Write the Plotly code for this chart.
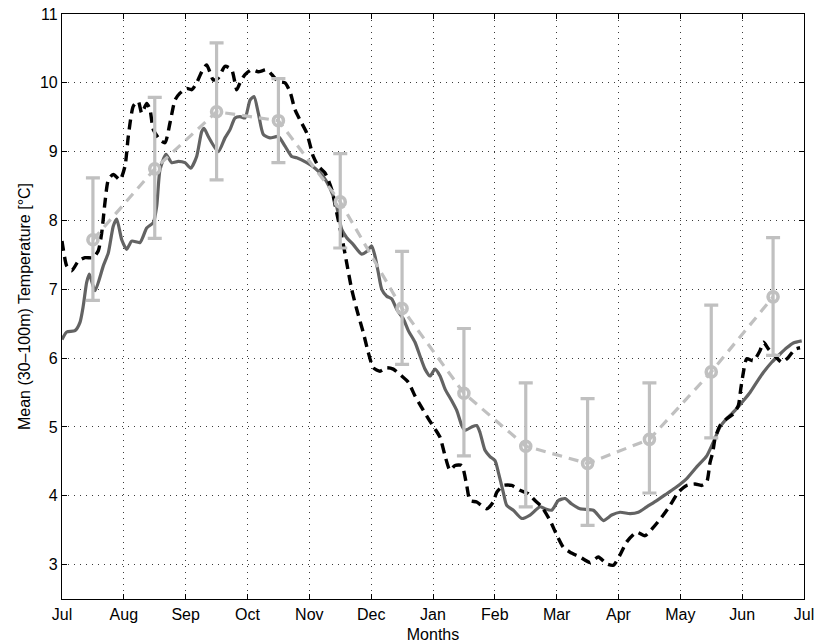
import plotly.graph_objects as go

# Month axis: position 0 = 1 July, 12 = 1 July of the following year
month_ticks = list(range(13))
month_labels = ["Jul", "Aug", "Sep", "Oct", "Nov", "Dec", "Jan",
                "Feb", "Mar", "Apr", "May", "Jun", "Jul"]

# Daily climatology (solid dark grey), time in fractional months
clim_t = [0.000, 0.076, 0.210, 0.291, 0.344, 0.399, 0.442, 0.534, 0.668, 0.749,
          0.830, 0.885, 0.966, 1.046, 1.127, 1.262, 1.370, 1.477, 1.532, 1.585,
          1.682, 1.774, 1.881, 1.989, 2.082, 2.178, 2.259, 2.297, 2.366, 2.528,
          2.636, 2.717, 2.798, 2.879, 2.960, 3.041, 3.105, 3.175, 3.256, 3.364,
          3.498, 3.607, 3.715, 3.796, 3.958, 4.092, 4.226, 4.334, 4.443, 4.524,
          4.605, 4.711, 4.847, 4.928, 5.009, 5.062, 5.116, 5.171, 5.252, 5.332,
          5.413, 5.520, 5.601, 5.709, 5.790, 5.871, 5.952, 6.033, 6.114, 6.195,
          6.303, 6.384, 6.465, 6.518, 6.626, 6.707, 6.760, 6.841, 6.922, 7.003,
          7.057, 7.137, 7.192, 7.299, 7.435, 7.569, 7.731, 7.812, 7.920, 8.027,
          8.135, 8.244, 8.378, 8.593, 8.755, 8.890, 9.025, 9.187, 9.321, 9.457,
          9.618, 9.780, 9.942, 10.103, 10.265, 10.427, 10.534, 10.642, 10.750,
          10.885, 11.019, 11.127, 11.236, 11.342, 11.478, 11.613, 11.721, 11.828,
          11.963]
clim_temp = [6.27, 6.38, 6.40, 6.52, 6.76, 7.10, 7.22, 6.98, 7.34, 7.53,
             7.92, 8.02, 7.72, 7.58, 7.70, 7.68, 7.89, 7.97, 8.21, 8.74,
             8.96, 8.84, 8.86, 8.84, 8.76, 8.93, 9.29, 9.34, 9.22, 9.00,
             9.20, 9.32, 9.49, 9.51, 9.49, 9.75, 9.80, 9.56, 9.25, 9.20,
             9.22, 9.08, 8.93, 8.91, 8.84, 8.76, 8.64, 8.47, 8.20, 7.87,
             7.75, 7.65, 7.51, 7.55, 7.63, 7.48, 7.24, 7.00, 6.90, 6.86,
             6.71, 6.57, 6.40, 6.23, 6.03, 5.84, 5.74, 5.84, 5.74, 5.55,
             5.38, 5.24, 5.02, 4.95, 5.00, 5.02, 4.92, 4.66, 4.57, 4.51,
             4.34, 4.05, 3.86, 3.79, 3.67, 3.72, 3.84, 3.81, 3.79, 3.93,
             3.96, 3.88, 3.81, 3.79, 3.64, 3.72, 3.76, 3.74, 3.76, 3.84,
             3.93, 4.03, 4.13, 4.25, 4.42, 4.58, 4.78, 5.00, 5.12,
             5.24, 5.38, 5.50, 5.65, 5.79, 5.94, 6.06, 6.15, 6.22,
             6.25]

# Single-year daily record (black dashed)
year_t = [0.000, 0.021, 0.076, 0.157, 0.264, 0.372, 0.506, 0.587, 0.642, 0.695,
          0.749, 0.830, 0.938, 1.019, 1.072, 1.153, 1.234, 1.289, 1.370, 1.423,
          1.477, 1.585, 1.666, 1.747, 1.828, 1.908, 2.017, 2.098, 2.178, 2.259,
          2.340, 2.447, 2.528, 2.636, 2.745, 2.826, 2.879, 2.960, 3.068, 3.175,
          3.311, 3.392, 3.498, 3.607, 3.688, 3.768, 3.849, 3.958, 4.064, 4.145,
          4.254, 4.362, 4.443, 4.524, 4.605, 4.685, 4.766, 4.873, 4.954, 5.035,
          5.143, 5.252, 5.358, 5.494, 5.601, 5.709, 5.818, 5.924, 6.033, 6.114,
          6.195, 6.275, 6.356, 6.465, 6.545, 6.599, 6.707, 6.869, 6.976, 7.030,
          7.137, 7.273, 7.407, 7.542, 7.650, 7.758, 7.893, 8.001, 8.108, 8.216,
          8.378, 8.540, 8.674, 8.810, 8.916, 9.025, 9.133, 9.295, 9.429, 9.563,
          9.699, 9.834, 9.968, 10.103, 10.238, 10.346, 10.427, 10.480, 10.524,
          10.561, 10.642, 10.750, 10.857, 10.938, 10.977, 11.019, 11.074, 11.181,
          11.289, 11.346, 11.427, 11.532, 11.640, 11.746, 11.855, 11.936]
year_temp = [7.70, 7.58, 7.34, 7.27, 7.41, 7.46, 7.46, 7.56, 7.82, 8.26,
             8.59, 8.67, 8.59, 8.79, 9.22, 9.66, 9.73, 9.56, 9.70, 9.61,
             9.32, 9.17, 9.13, 9.42, 9.75, 9.85, 9.92, 9.90, 10.00, 10.16,
             10.26, 10.04, 10.07, 10.24, 10.19, 9.90, 10.00, 10.12, 10.19, 10.16,
             10.19, 10.12, 10.02, 10.00, 9.87, 9.61, 9.46, 9.27, 8.93, 8.79,
             8.69, 8.45, 8.11, 7.77, 7.38, 7.00, 6.71, 6.37, 6.08, 5.86,
             5.81, 5.86, 5.84, 5.74, 5.65, 5.45, 5.28, 5.12, 4.97, 4.85,
             4.58, 4.37, 4.44, 4.44, 4.15, 3.93, 3.91, 3.81, 3.91, 4.05,
             4.15, 4.15, 4.08, 4.03, 3.93, 3.84, 3.64, 3.43, 3.25, 3.18,
             3.11, 3.03, 3.11, 3.01, 2.99, 3.14, 3.33, 3.47, 3.42, 3.54,
             3.69, 3.86, 4.05, 4.15, 4.17, 4.15, 4.20, 4.48, 4.63,
             4.83, 5.02, 5.12, 5.19, 5.31, 5.55, 5.79, 5.99, 5.96,
             6.11, 6.23, 6.13, 6.03, 5.94, 6.01, 6.13, 6.15]

# Monthly means with their upper / lower bounds (light grey)
mon_t = [0.5, 1.5, 2.5, 3.5, 4.5, 5.5, 6.5, 7.5, 8.5, 9.5, 10.5, 11.5]
mon_mean = [7.72, 8.75, 9.58, 9.45, 8.27, 6.72, 5.49, 4.72, 4.47, 4.82, 5.80, 6.89]
mon_upper = [8.62, 9.79, 10.58, 10.06, 8.97, 7.55, 6.43, 5.64, 5.41, 5.64, 6.77, 7.75]
mon_lower = [6.84, 7.74, 8.59, 8.84, 7.60, 5.91, 4.58, 3.84, 3.57, 4.04, 4.84, 6.04]

DARK = "#636363"
LIGHT = "#c0c0c0"
FONT = "Liberation Sans, Arial, Helvetica, sans-serif"

fig = go.Figure()

fig.add_trace(go.Scatter(
    x=clim_t, y=clim_temp, mode="lines",
    line=dict(color=DARK, width=3.2, shape="spline", smoothing=0.6),
    showlegend=False, hoverinfo="skip"))

fig.add_trace(go.Scatter(
    x=year_t, y=year_temp, mode="lines",
    line=dict(color="black", width=3.4, dash="10px,6px", shape="spline", smoothing=0.6),
    showlegend=False, hoverinfo="skip"))

fig.add_trace(go.Scatter(
    x=mon_t, y=mon_mean, mode="lines",
    line=dict(color=LIGHT, width=3.2, dash="10px,7px"),
    showlegend=False, hoverinfo="skip"))

fig.add_trace(go.Scatter(
    x=mon_t, y=mon_mean, mode="markers",
    marker=dict(symbol="circle-open", size=10, color=LIGHT,
                line=dict(color=LIGHT, width=3.6)),
    error_y=dict(type="data", symmetric=False,
                 array=[u - m for u, m in zip(mon_upper, mon_mean)],
                 arrayminus=[m - l for m, l in zip(mon_mean, mon_lower)],
                 color=LIGHT, thickness=3.2, width=7),
    showlegend=False, hoverinfo="skip"))

axis_common = dict(
    showline=True, linecolor="black", linewidth=1.2, mirror="ticks",
    ticks="inside", ticklen=5, tickcolor="black", tickwidth=1,
    showgrid=True, gridcolor="#3a3a3a", gridwidth=1, griddash="1px,5px",
    zeroline=False, automargin=False,
    tickfont=dict(family=FONT, size=16, color="black"),
)

fig.update_xaxes(
    range=[0, 12], tickvals=month_ticks, ticktext=month_labels,
    ticklabelstandoff=1,
    title=dict(text="Months", font=dict(family=FONT, size=16, color="black"), standoff=8),
    **axis_common)
fig.update_yaxes(
    range=[2.5, 11], tickvals=list(range(3, 12)),
    title=dict(text="Mean (30\u2013100m) Temperature [\u00b0C]",
               font=dict(family=FONT, size=16, color="black"), standoff=5),
    **axis_common)

fig.update_layout(
    width=815, height=643,
    margin=dict(l=62, r=11, t=14, b=44),
    paper_bgcolor="white", plot_bgcolor="white",
    font=dict(family=FONT, size=16, color="black"),
)

fig.write_html("out.html")
